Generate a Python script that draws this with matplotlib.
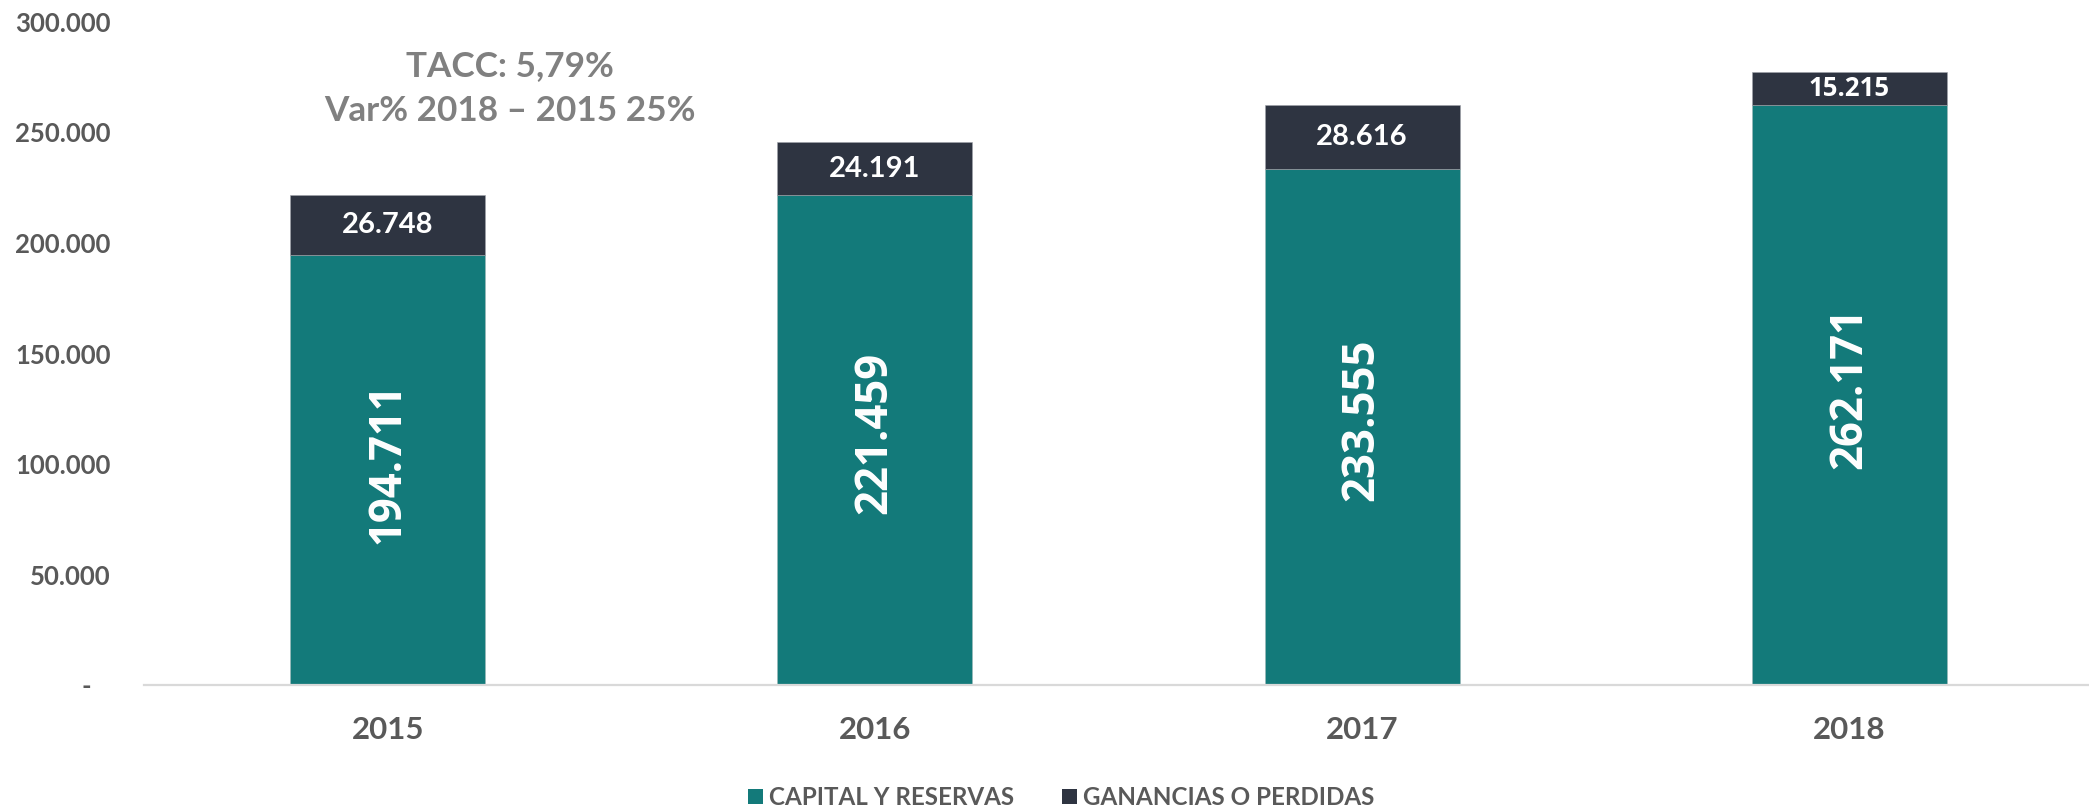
import matplotlib
matplotlib.use("Agg")
import matplotlib.pyplot as plt
from matplotlib.patches import Patch
import numpy as np

years = ["2015", "2016", "2017", "2018"]
capital_reservas = [194711, 221459, 233555, 262171]
ganancias_perdidas = [26748, 24191, 28616, 15215]
series_names = ["CAPITAL Y RESERVAS", "GANANCIAS O PERDIDAS"]
y_ticks = [0, 50000, 100000, 150000, 200000, 250000, 300000]
annotation_lines = ["TACC: 5,79%", "Var% 2018 \u2013 2015 25%"]

TEAL = "#137A7A"
DARK = "#2E3441"
TICK_GRAY = "#595959"
ANN_GRAY = "#808080"

plt.rcParams['font.family'] = ['Lato', 'DejaVu Sans']
plt.rcParams['font.weight'] = 'bold'

fig = plt.figure(figsize=(20.89, 8.08), dpi=100)
ax = fig.add_axes([144 / 2089, 0.152, 0.933, 0.821])

x = np.arange(len(years))
w = 0.40
ax.bar(x, capital_reservas, width=w, color=TEAL, edgecolor="#9fb8b8", linewidth=0.4)
ax.bar(x, ganancias_perdidas, width=w, bottom=capital_reservas, color=DARK,
       edgecolor="#9fa3aa", linewidth=0.4)

def fmt(v):
    return f"{v:,}".replace(",", ".")

for i in range(len(years)):
    ax.annotate(fmt(capital_reservas[i]), (x[i], capital_reservas[i] / 2),
                xytext=(0, 5), textcoords="offset points", rotation=90,
                ha="center", va="center", color="white", fontsize=31.5,
                fontweight="bold", family=["Open Sans", "DejaVu Sans"])
    top_mid = capital_reservas[i] + ganancias_perdidas[i] / 2
    if i == 3:
        ax.text(x[i], top_mid, fmt(ganancias_perdidas[i]), ha="center", va="center",
                color="white", fontsize=18.5, fontweight="bold",
                family=["Open Sans", "DejaVu Sans"])
    else:
        ax.text(x[i], top_mid, fmt(ganancias_perdidas[i]), ha="center", va="center",
                color="white", fontsize=21, fontweight="bold")

ax.set_xlim(-0.5, 3.5)
ax.set_ylim(0, 300000)
ax.set_xticks(x)
ax.set_xticklabels(years, fontsize=22.5, color=TICK_GRAY, fontweight="bold")
ax.set_yticks(y_ticks)
ax.set_yticklabels([fmt(v) if v else "-   " for v in y_ticks], fontsize=18.5,
                   color=TICK_GRAY, fontweight="bold")
ax.tick_params(axis="x", length=0, pad=22)
ax.tick_params(axis="y", length=0, pad=24)
for s in ["top", "right", "left"]:
    ax.spines[s].set_visible(False)
ax.spines["bottom"].set_color("#D9D9D9")
ax.spines["bottom"].set_linewidth(1.6)

ax.text(0.188, 0.90, "\n".join(annotation_lines), transform=ax.transAxes,
        ha="center", va="center", fontsize=25.3, color=ANN_GRAY, fontweight="bold",
        linespacing=1.5)

handles = [Patch(facecolor=TEAL), Patch(facecolor=DARK)]
fig.legend(handles, series_names, loc="center", bbox_to_anchor=(0.508, 0.013),
           ncol=2, frameon=False, handlelength=0.6, handleheight=0.6,
           handletextpad=0.25, columnspacing=2.0, labelcolor=TICK_GRAY,
           prop={'weight': 'bold', 'size': 17.4})

fig.savefig("out.png", dpi=100)
